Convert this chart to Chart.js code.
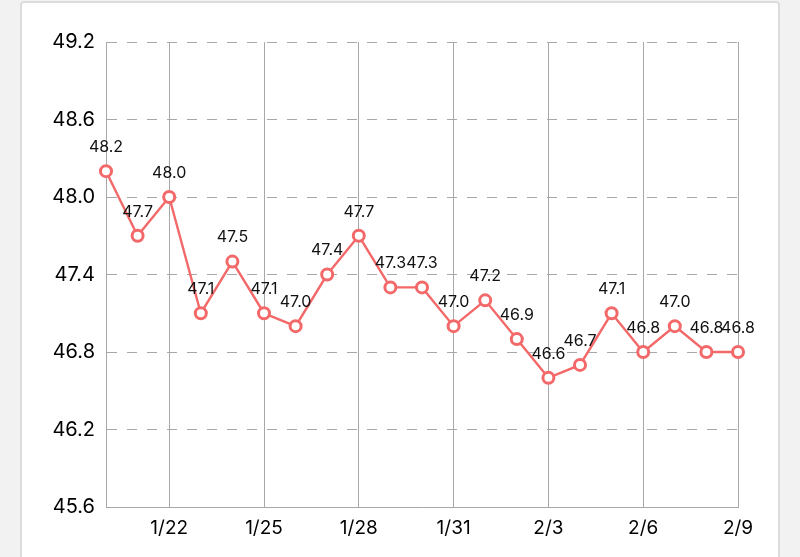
<!DOCTYPE html>
<html>
<head>
<meta charset="utf-8">
<script src="https://cdn.jsdelivr.net/npm/chart.js@4"></script>
<style>
  html, body { margin: 0; padding: 0; background: #f2f2f2; }
  body { width: 800px; height: 557px; position: relative; overflow: hidden; }
  .card { position: absolute; left: 20px; top: 1px; width: 756px; height: 620px; background: #fff; border: 2px solid #dcdcdc; border-radius: 4px; }
  #wrap { position: absolute; left: 0; top: 0; width: 800px; height: 557px; }
</style>
</head>
<body>
<div class="card"></div>
<div id="wrap"><canvas id="weightChart"></canvas></div>
<script>
(function(){
  // daily values, 1/20 .. 2/9
  const dates = ['1/20','1/21','1/22','1/23','1/24','1/25','1/26','1/27','1/28','1/29','1/30','1/31',
                 '2/1','2/2','2/3','2/4','2/5','2/6','2/7','2/8','2/9'];
  const values = [48.2, 47.7, 48.0, 47.1, 47.5, 47.1, 47.0, 47.4, 47.7, 47.3, 47.3, 47.0,
                  47.2, 46.9, 46.6, 46.7, 47.1, 46.8, 47.0, 46.8, 46.8];
  const yTicks = [45.6, 46.2, 46.8, 47.4, 48.0, 48.6, 49.2];

  const lineColor = '#f36868';
  const gridColor = '#a8a8a8';
  const font = 'Inter, Liberation Sans, sans-serif';

  // value labels above each point
  const valueLabels = {
    id: 'valueLabels',
    afterDatasetsDraw(chart){
      const ctx = chart.ctx;
      const meta = chart.getDatasetMeta(0);
      ctx.save();
      ctx.font = '16px ' + font;
      ctx.fillStyle = '#111';
      ctx.textAlign = 'center';
      ctx.textBaseline = 'middle';
      meta.data.forEach((pt, i) => {
        ctx.fillText(values[i].toFixed(1), pt.x, pt.y - 24);
      });
      ctx.restore();
    }
  };

  const canvas = document.getElementById('weightChart');
  new Chart(canvas, {
    type: 'line',
    data: {
      labels: dates,
      datasets: [{
        data: values,
        borderColor: lineColor,
        borderWidth: 2.4,
        tension: 0,
        pointRadius: 5.5,
        pointBorderWidth: 3,
        pointBackgroundColor: '#fff',
        pointBorderColor: lineColor
      }]
    },
    options: {
      responsive: true,
      maintainAspectRatio: false,
      animation: false,
      layout: { padding: { left: 21, right: 62, top: 42, bottom: 0 } },
      plugins: { legend: { display: false }, tooltip: { enabled: false } },
      scales: {
        x: {
          afterFit: s => { s.height = 50; },
          border: { display: true, color: gridColor, width: 1 },
          grid: {
            drawTicks: false,
            color: c => (c.index % 3 === 2 ? gridColor : 'rgba(0,0,0,0)'),
            lineWidth: 1
          },
          ticks: {
            autoSkip: false,
            maxRotation: 0,
            padding: 10,
            color: '#000',
            font: { family: font, size: 19 },
            callback: (v, i) => (i % 3 === 2 ? dates[i] : '')
          }
        },
        y: {
          min: yTicks[0],
          max: yTicks[yTicks.length - 1],
          afterFit: s => { s.width = 85; },
          afterBuildTicks: s => { s.ticks = yTicks.map(v => ({ value: v })); },
          border: { display: true, color: gridColor, width: 1, dash: [10, 10] },
          grid: { drawTicks: false, color: gridColor, lineWidth: 1 },
          ticks: {
            padding: 11,
            color: '#000',
            font: { family: font, size: 20 },
            callback: v => Number(v).toFixed(1)
          }
        }
      }
    },
    plugins: [valueLabels]
  });
})();
</script>
</body>
</html>
